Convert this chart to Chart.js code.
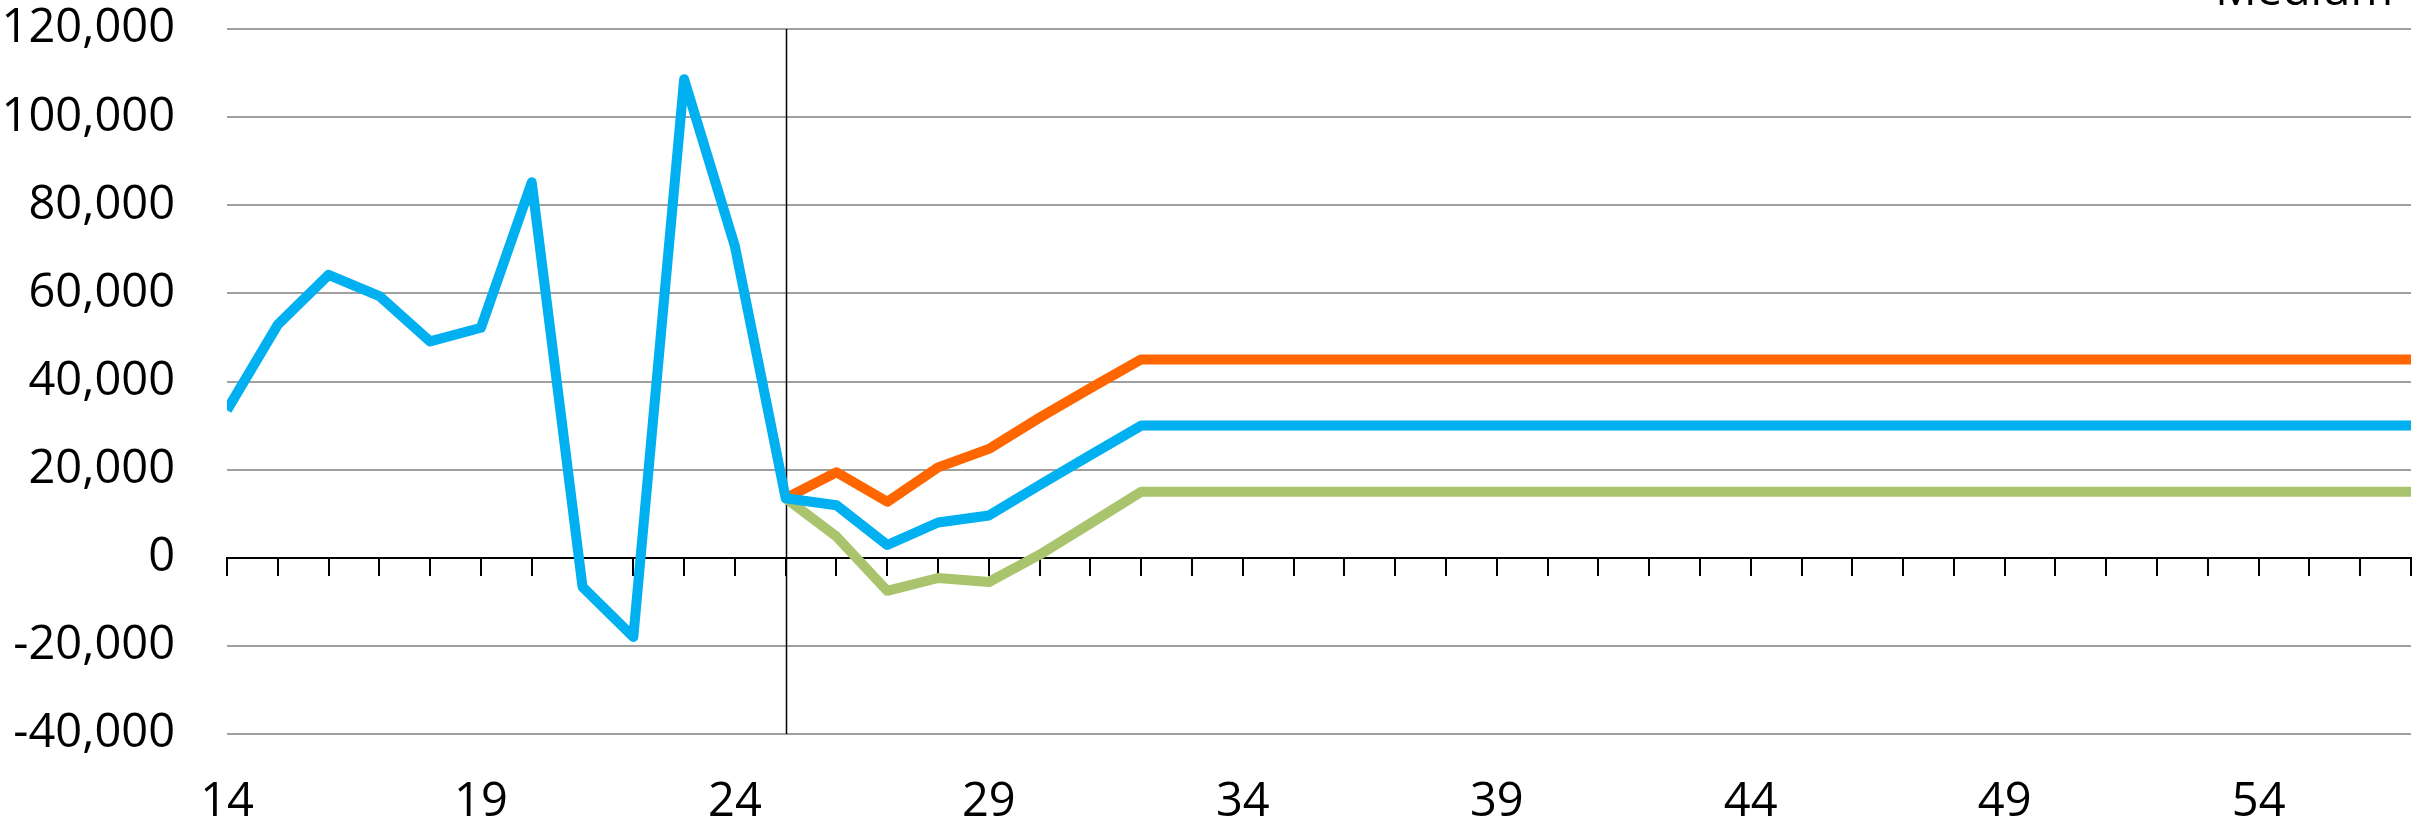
<!DOCTYPE html>
<html>
<head>
<meta charset="utf-8">
<script src="https://cdn.jsdelivr.net/npm/chart.js@4"></script>
<style>
  html, body { margin: 0; padding: 0; background: #fff; }
  #wrap { width: 2423px; height: 830px; position: relative; }
</style>
</head>
<body>
<div id="wrap"><canvas id="chart"></canvas></div>
<script>
// x categories (years)
const years = [14, 15, 16, 17, 18, 19, 20, 21, 22, 23, 24, 25, 26, 27, 28, 29, 30, 31, 32, 33,
  34, 35, 36, 37, 38, 39, 40, 41, 42, 43, 44, 45, 46, 47, 48, 49, 50, 51, 52, 53, 54, 55, 56, 57];
const xTickLabels = [14, 19, 24, 29, 34, 39, 44, 49, 54];
const yTicks = [-40000, -20000, 0, 20000, 40000, 60000, 80000, 100000, 120000];
const forecastStart = 25;

// series
const medium = [33500, 52900, 64200, 59400, 49100, 52200, 85200, -6600, -18000, 108600, 70700,
  13500, 11900, 2900, 8000, 9600, 16500, 23300, 30000, 30000,
  30000, 30000, 30000, 30000, 30000, 30000, 30000, 30000, 30000, 30000,
  30000, 30000, 30000, 30000, 30000, 30000, 30000, 30000, 30000, 30000,
  30000, 30000, 30000, 30000];
const high = [null, null, null, null, null, null, null, null, null, null, null,
  13500, 19400, 12700, 20500, 24700, 31800, 38500, 45000, 45000,
  45000, 45000, 45000, 45000, 45000, 45000, 45000, 45000, 45000, 45000,
  45000, 45000, 45000, 45000, 45000, 45000, 45000, 45000, 45000, 45000,
  45000, 45000, 45000, 45000];
const low = [null, null, null, null, null, null, null, null, null, null, null,
  13500, 4800, -7500, -4600, -5500, 700, 7800, 15000, 15000,
  15000, 15000, 15000, 15000, 15000, 15000, 15000, 15000, 15000, 15000,
  15000, 15000, 15000, 15000, 15000, 15000, 15000, 15000, 15000, 15000,
  15000, 15000, 15000, 15000];

const FAMILY = "'Open Sans', sans-serif";
const FONT = { family: FAMILY, size: 47 };

// vertical line at forecast start + clipped "Medium" label at the top
const extras = {
  id: 'extras',
  beforeDatasetsDraw(chart) {
    const { ctx, chartArea, scales } = chart;
    const x = Math.round(scales.x.getPixelForValue(years.indexOf(forecastStart))) + 0.5;
    ctx.save();
    ctx.strokeStyle = '#000';
    ctx.lineWidth = 1.5;
    ctx.beginPath();
    ctx.moveTo(x, chartArea.top);
    ctx.lineTo(x, chartArea.bottom);
    ctx.stroke();
    ctx.restore();
  },
  afterDraw(chart) {
    const { ctx } = chart;
    ctx.save();
    ctx.font = "46px " + FAMILY;
    ctx.fillStyle = '#000';
    ctx.textAlign = 'right';
    ctx.textBaseline = 'alphabetic';
    ctx.fillText('Medium', 2393, 5);
    ctx.restore();
  }
};

const lineStyle = {
  borderWidth: 10,
  pointRadius: 0,
  borderJoinStyle: 'round',
  borderCapStyle: 'butt',
  tension: 0,
  clip: { left: 0, top: 20, right: 20, bottom: 20 }
};

new Chart(document.getElementById('chart'), {
  type: 'line',
  data: {
    labels: years,
    datasets: [
      { label: 'Medium', data: medium, borderColor: '#00B0F0', ...lineStyle },
      { label: 'High', data: high, borderColor: '#FF6600', ...lineStyle },
      { label: 'Low', data: low, borderColor: '#A9C46C', ...lineStyle }
    ]
  },
  options: {
    responsive: true,
    maintainAspectRatio: false,
    animation: false,
    layout: { padding: { top: 0, right: 12, bottom: 0, left: 0 } },
    plugins: {
      legend: { display: false },
      tooltip: { enabled: false }
    },
    scales: {
      x: {
        type: 'category',
        position: 'bottom',
        offset: false,
        grid: { display: false, drawTicks: false },
        border: { display: false },
        ticks: {
          autoSkip: false,
          maxRotation: 0,
          padding: 40,
          color: '#000',
          font: FONT,
          callback: (v, i) => xTickLabels.includes(years[i]) ? String(years[i]) : null
        },
        afterFit: (s) => { s.height = 96; }
      },
      x2: {
        type: 'category',
        position: { y: 0 },
        offset: false,
        grid: { display: true, drawOnChartArea: false, drawTicks: true, tickLength: 17, color: '#000', lineWidth: 2 },
        border: { display: true, color: '#000', width: 2 },
        ticks: { display: false }
      },
      y: {
        min: -40000,
        max: 120000,
        afterBuildTicks: (s) => { s.ticks = yTicks.map(v => ({ value: v })); },
        grid: { color: '#A0A0A0', lineWidth: 2, drawTicks: false },
        border: { display: false },
        ticks: {
          padding: 52,
          color: '#000',
          font: FONT,
          callback: (v) => Number(v).toLocaleString('en-US')
        },
        afterFit: (s) => {
          s.width = 227;
          s.paddingTop = 29;
          s.paddingBottom = 29;
        }
      }
    }
  },
  plugins: [extras]
});
</script>
</body>
</html>
